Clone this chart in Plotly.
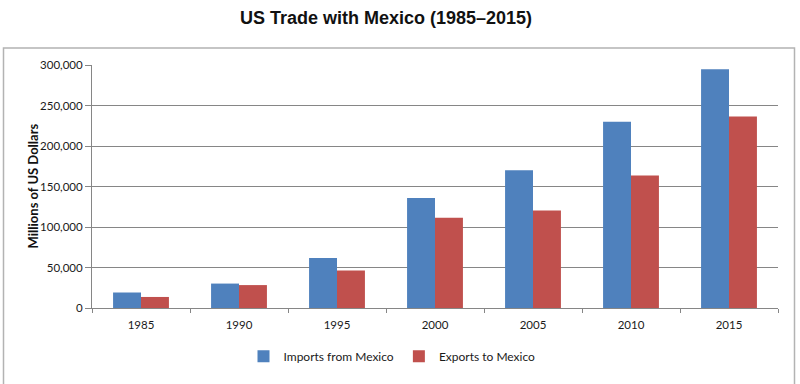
import plotly.graph_objects as go

years = ["1985", "1990", "1995", "2000", "2005", "2010", "2015"]
imports_from_mexico = [19132, 30157, 61685, 135926, 170109, 229908, 294741]
exports_to_mexico = [13635, 28279, 46292, 111349, 120248, 163665, 236460]
y_ticks = [0, 50000, 100000, 150000, 200000, 250000, 300000]
y_tick_labels = ["0", "50,000", "100,000", "150,000", "200,000", "250,000", "300,000"]

BLUE = "#4F81BD"
RED = "#C0504D"
FONT = "Lato, 'Open Sans', sans-serif"

# plot area in pixels
L, R, T, B = 92, 778, 64.5, 307.7
W, H = 800, 384
pw, ph = R - L, B - T

def px2x(px):
    return (px - L) / pw

def px2y(py):
    return (B - py) / ph

fig = go.Figure()
fig.add_trace(go.Bar(x=years, y=imports_from_mexico, name="Imports from Mexico",
                     marker=dict(color=BLUE, line=dict(width=0))))
fig.add_trace(go.Bar(x=years, y=exports_to_mexico, name="Exports to Mexico",
                     marker=dict(color=RED, line=dict(width=0))))

fig.update_layout(
    width=W, height=H,
    margin=dict(l=L, r=W - R, t=T, b=H - B, pad=0),
    paper_bgcolor="white", plot_bgcolor="white",
    barmode="group", bargap=0.43, bargroupgap=0,
    font=dict(family=FONT, size=11.5, color="#1a1a1a"),
    title=dict(text="<b>US Trade with Mexico (1985\u20132015)</b>",
               x=386 / W, xanchor="center", xref="container",
               y=1 - 18 / H, yanchor="middle", yref="container",
               font=dict(family="Arial, 'Liberation Sans', sans-serif", size=18, color="#111111")),
    showlegend=True,
    legend=dict(orientation="h", x=px2x(392), xanchor="center",
                y=px2y(356), yanchor="middle",
                font=dict(family=FONT, size=12, color="#1a1a1a"),
                itemwidth=30, traceorder="normal", bgcolor="rgba(0,0,0,0)"),
    xaxis=dict(showline=True, linecolor="#868686", linewidth=1,
               ticks="outside", tickson="boundaries", ticklen=4, tickcolor="#868686",
               ticklabelstandoff=6,
               showgrid=False, tickfont=dict(family=FONT, size=11.5, color="#1a1a1a")),
    yaxis=dict(range=[0, 300000], tickvals=y_ticks, ticktext=y_tick_labels,
               showline=True, linecolor="#868686", linewidth=1,
               ticks="outside", ticklen=6, tickcolor="#868686",
               showgrid=True, gridcolor="#868686", gridwidth=1,
               zeroline=False,
               tickfont=dict(family=FONT, size=11.5, color="#1a1a1a")),
)

fig.add_annotation(text="<b>Millions of US Dollars</b>", textangle=-90,
                   xref="paper", yref="paper", x=px2x(33), y=px2y(186),
                   xanchor="center", yanchor="middle", showarrow=False,
                   font=dict(family=FONT, size=13, color="#111111"))

fig.add_shape(type="rect", xref="paper", yref="paper",
              x0=px2x(3.5), x1=px2x(794.5), y0=px2y(395), y1=px2y(47.5),
              line=dict(color="#b3b3b3", width=1.5), fillcolor="rgba(0,0,0,0)", layer="below")

fig.write_html("out.html", config={"displayModeBar": False},
               post_script="document.body.style.margin='0';document.body.style.overflow='hidden';")
